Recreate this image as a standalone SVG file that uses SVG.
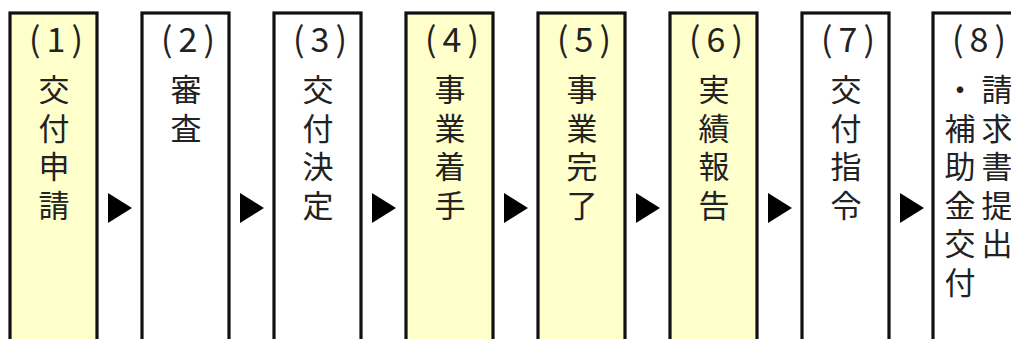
<svg xmlns="http://www.w3.org/2000/svg" width="1011" height="339" viewBox="0 0 1011 339">
<style>
.box{stroke:#111;stroke-width:3.2;}
.y{fill:#FFFFCC;}
.w{fill:#FFFFFF;}
.t{font-family:"Noto Sans CJK JP","Noto Sans CJK SC",sans-serif;font-size:31px;fill:#222;text-anchor:middle;}
.n{font-family:"Noto Sans CJK JP","Noto Sans CJK SC",sans-serif;font-size:34px;fill:#222;text-anchor:middle;}
.arr{fill:#000;}
</style>
<rect x="0" y="0" width="1011" height="339" fill="#fff"/>
<g id="node1"><rect class="box y" x="10" y="13" width="87" height="340"/>
<text class="n" x="56" y="52">(<tspan dx="6">1</tspan><tspan dx="6">)</tspan></text>
<text class="t"><tspan x="54" y="101">交</tspan><tspan x="54" y="139.5">付</tspan><tspan x="54" y="178">申</tspan><tspan x="54" y="216.5">請</tspan></text></g>
<g id="node2"><rect class="box w" x="142" y="13" width="87" height="340"/>
<text class="n" x="188" y="52">(<tspan dx="6">2</tspan><tspan dx="6">)</tspan></text>
<text class="t"><tspan x="186" y="101">審</tspan><tspan x="186" y="139.5">査</tspan></text></g>
<g id="node3"><rect class="box w" x="274" y="13" width="87" height="340"/>
<text class="n" x="320" y="52">(<tspan dx="6">3</tspan><tspan dx="6">)</tspan></text>
<text class="t"><tspan x="318" y="101">交</tspan><tspan x="318" y="139.5">付</tspan><tspan x="318" y="178">決</tspan><tspan x="318" y="216.5">定</tspan></text></g>
<g id="node4"><rect class="box y" x="406" y="13" width="87" height="340"/>
<text class="n" x="452" y="52">(<tspan dx="6">4</tspan><tspan dx="6">)</tspan></text>
<text class="t"><tspan x="450" y="101">事</tspan><tspan x="450" y="139.5">業</tspan><tspan x="450" y="178">着</tspan><tspan x="450" y="216.5">手</tspan></text></g>
<g id="node5"><rect class="box y" x="538" y="13" width="87" height="340"/>
<text class="n" x="584" y="52">(<tspan dx="6">5</tspan><tspan dx="6">)</tspan></text>
<text class="t"><tspan x="582" y="101">事</tspan><tspan x="582" y="139.5">業</tspan><tspan x="582" y="178">完</tspan><tspan x="582" y="216.5">了</tspan></text></g>
<g id="node6"><rect class="box y" x="670" y="13" width="87" height="340"/>
<text class="n" x="716" y="52">(<tspan dx="6">6</tspan><tspan dx="6">)</tspan></text>
<text class="t"><tspan x="714" y="101">実</tspan><tspan x="714" y="139.5">績</tspan><tspan x="714" y="178">報</tspan><tspan x="714" y="216.5">告</tspan></text></g>
<g id="node7"><rect class="box w" x="802" y="13" width="87" height="340"/>
<text class="n" x="848" y="52">(<tspan dx="6">7</tspan><tspan dx="6">)</tspan></text>
<text class="t"><tspan x="846" y="101">交</tspan><tspan x="846" y="139.5">付</tspan><tspan x="846" y="178">指</tspan><tspan x="846" y="216.5">令</tspan></text></g>
<g id="node8"><rect class="box w" x="933" y="13" width="87" height="340"/>
<text class="n" x="979" y="52">(<tspan dx="6">8</tspan><tspan dx="6">)</tspan></text>
<text class="t"><tspan x="997" y="101">請</tspan><tspan x="997" y="139.5">求</tspan><tspan x="997" y="178">書</tspan><tspan x="997" y="216.5">提</tspan><tspan x="997" y="255">出</tspan></text>
<text class="t"><tspan x="960" y="101">・</tspan><tspan x="960" y="139.5">補</tspan><tspan x="960" y="178">助</tspan><tspan x="960" y="216.5">金</tspan><tspan x="960" y="255">交</tspan><tspan x="960" y="293.5">付</tspan></text></g>
<g id="connectors">
<polygon class="arr" points="108,193 132,208 108,223"/>
<polygon class="arr" points="240,193 264,208 240,223"/>
<polygon class="arr" points="372,193 396,208 372,223"/>
<polygon class="arr" points="504,193 528,208 504,223"/>
<polygon class="arr" points="636,193 660,208 636,223"/>
<polygon class="arr" points="768,193 792,208 768,223"/>
<polygon class="arr" points="900,193 924,208 900,223"/>
</g>
</svg>
